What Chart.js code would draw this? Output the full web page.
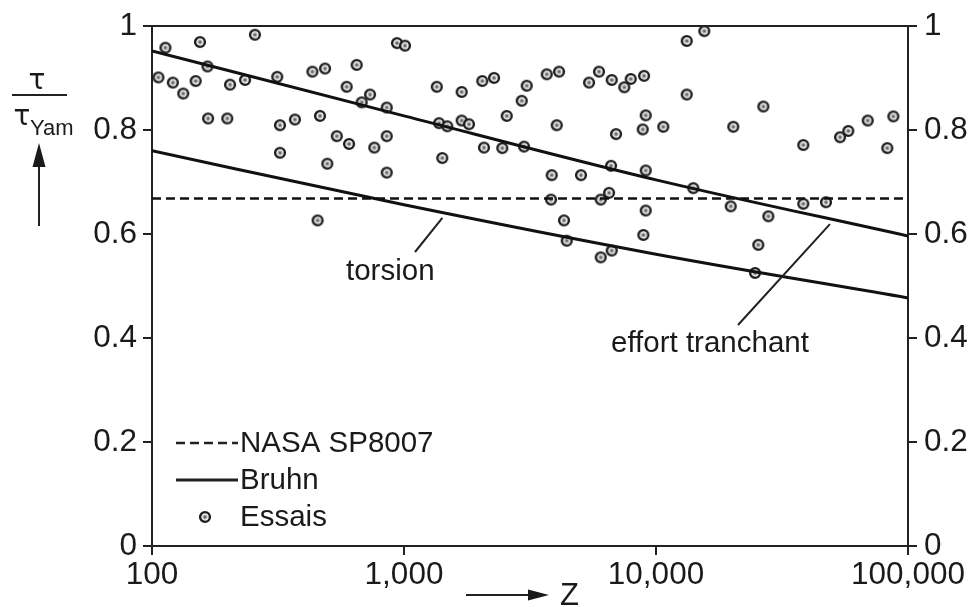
<!DOCTYPE html>
<html>
<head>
<meta charset="utf-8">
<script src="https://cdn.jsdelivr.net/npm/chart.js@4.4.1/dist/chart.umd.min.js"></script>
<style>
  html, body { margin: 0; padding: 0; background: #fff; }
  canvas { display: block; }
</style>
</head>
<body>
<canvas id="chart" width="972" height="607"></canvas>
<script>
// axis ticks
const zTicks = [100, 1000, 10000, 100000];
const ratioTicks = [0, 0.2, 0.4, 0.6, 0.8, 1];

// NASA SP8007 design value
const nasaZ = [100, 100000];
const nasaRatio = [0.668, 0.668];

// Bruhn curves
const bruhnZ = [100, 1000, 10000, 100000];
const bruhnShear = [0.952, 0.827, 0.704, 0.596];
const bruhnTorsion = [0.76, 0.656, 0.561, 0.477];

// test results (Essais)
const testZ = [
  113, 155, 256, 938, 1009, 106, 121, 133, 149, 166,
  204, 234, 314, 433, 486, 649, 592, 679, 733, 854,
  167, 199, 322, 369, 464, 541, 605, 762, 854, 322,
  496, 854, 454, 1349, 1694, 2045, 2276, 3069, 2931, 3685,
  4122, 5422, 5940, 6673, 7485, 7937, 8966, 2556, 1377, 1485,
  1694, 1811, 4036, 6940, 8859, 9101, 1419, 2077, 2455, 2994,
  3856, 5039, 6630, 9101, 3832, 6034, 6510, 9101, 4314, 8906,
  4422, 6673, 6034, 15549, 13238, 13238, 26668, 10690, 20263, 38411,
  53725, 57940, 69216, 87447, 82776, 14061, 19790, 27907, 38411, 47260,
  25468, 24714
];
const testRatio = [
  0.958, 0.969, 0.983, 0.967, 0.962, 0.901, 0.891, 0.870, 0.894, 0.922,
  0.887, 0.896, 0.902, 0.912, 0.918, 0.925, 0.883, 0.853, 0.868, 0.843,
  0.822, 0.822, 0.809, 0.820, 0.827, 0.788, 0.773, 0.766, 0.788, 0.756,
  0.735, 0.718, 0.626, 0.883, 0.873, 0.894, 0.900, 0.885, 0.856, 0.907,
  0.912, 0.891, 0.912, 0.896, 0.882, 0.898, 0.904, 0.827, 0.813, 0.807,
  0.818, 0.811, 0.809, 0.792, 0.801, 0.828, 0.746, 0.766, 0.765, 0.768,
  0.713, 0.713, 0.731, 0.722, 0.666, 0.666, 0.679, 0.645, 0.626, 0.598,
  0.587, 0.568, 0.555, 0.990, 0.971, 0.868, 0.845, 0.806, 0.806, 0.771,
  0.786, 0.798, 0.818, 0.826, 0.765, 0.688, 0.653, 0.634, 0.658, 0.661,
  0.579, 0.525
];

const ink = "#1a1a1a";
const fontFamily = "'Liberation Sans', Arial, Helvetica, sans-serif";

const toPoints = (xs, ys) => xs.map((x, i) => ({ x: x, y: ys[i] }));

// small test marker: dark ring with a dot in the middle
function makeMarker() {
  const c = document.createElement("canvas");
  c.width = 14;
  c.height = 14;
  const g = c.getContext("2d");
  g.beginPath();
  g.arc(7, 7, 4.9, 0, Math.PI * 2);
  g.fillStyle = "#f0f0f0";
  g.fill();
  g.lineWidth = 2.4;
  g.strokeStyle = "#1e1e1e";
  g.stroke();
  g.beginPath();
  g.arc(7, 7, 1.9, 0, Math.PI * 2);
  g.lineWidth = 0.9;
  g.strokeStyle = "#888";
  g.stroke();
  g.beginPath();
  g.arc(7, 7, 1, 0, Math.PI * 2);
  g.fillStyle = "#333";
  g.fill();
  return c;
}
const marker = makeMarker();

function arrow(ctx, x1, y1, x2, y2, head, half) {
  const a = Math.atan2(y2 - y1, x2 - x1);
  const bx = x2 - Math.cos(a) * head;
  const by = y2 - Math.sin(a) * head;
  ctx.beginPath();
  ctx.moveTo(x1, y1);
  ctx.lineTo(bx, by);
  ctx.lineWidth = 2;
  ctx.stroke();
  ctx.beginPath();
  ctx.moveTo(x2, y2);
  ctx.lineTo(bx - Math.sin(a) * half, by + Math.cos(a) * half);
  ctx.lineTo(bx + Math.sin(a) * half, by - Math.cos(a) * half);
  ctx.closePath();
  ctx.fill();
}

const decorations = {
  id: "decorations",
  afterDatasetsDraw(chart) {
    const ctx = chart.ctx;
    const area = chart.chartArea;
    const xs = chart.scales.x;
    const ys = chart.scales.y;
    ctx.save();
    ctx.strokeStyle = "#222";
    ctx.fillStyle = ink;

    // top frame line
    ctx.lineWidth = 2;
    ctx.beginPath();
    ctx.moveTo(area.left, area.top);
    ctx.lineTo(area.right, area.top);
    ctx.stroke();

    // pointers for the curve names
    ctx.lineWidth = 2;
    ctx.beginPath();
    ctx.moveTo(415, 252);
    ctx.lineTo(xs.getPixelForValue(1420), ys.getPixelForValue(0.631));
    ctx.moveTo(738, 325);
    ctx.lineTo(xs.getPixelForValue(49000), ys.getPixelForValue(0.619));
    ctx.stroke();

    ctx.font = "29.5px " + fontFamily;
    ctx.textBaseline = "alphabetic";
    ctx.textAlign = "left";
    ctx.fillText("torsion", 346, 280);
    ctx.fillText("effort tranchant", 611, 352);

    // legend
    const ds = chart.data.datasets;
    ctx.textBaseline = "middle";
    ctx.lineWidth = 2.5;
    ctx.setLineDash([9, 5]);
    ctx.beginPath();
    ctx.moveTo(176, 443);
    ctx.lineTo(238, 443);
    ctx.stroke();
    ctx.setLineDash([]);
    ctx.lineWidth = 3;
    ctx.beginPath();
    ctx.moveTo(176, 480);
    ctx.lineTo(238, 480);
    ctx.stroke();
    ctx.drawImage(marker, 205 - 7, 517 - 7);
    ctx.fillText(ds[0].label, 240, 444);
    ctx.fillText(ds[1].label, 240, 481);
    ctx.fillText(ds[3].label, 240, 518);

    // y axis title: tau / tau_Yam with arrow
    ctx.textAlign = "center";
    ctx.textBaseline = "alphabetic";
    ctx.font = "28px 'DejaVu Sans', sans-serif";
    ctx.fillText("\u03C4", 37, 89);
    ctx.lineWidth = 2;
    ctx.beginPath();
    ctx.moveTo(12, 95);
    ctx.lineTo(67, 95);
    ctx.stroke();
    ctx.fillText("\u03C4", 22, 125);
    ctx.font = "22px " + fontFamily;
    ctx.textAlign = "left";
    ctx.fillText("Yam", 30, 135);
    arrow(ctx, 39, 226, 39, 143, 24, 6.5);

    // x axis title: arrow and Z
    arrow(ctx, 466, 595, 549, 595, 21, 5.5);
    ctx.font = "31px " + fontFamily;
    ctx.fillText("Z", 560, 605);

    ctx.restore();
  }
};

const tickFont = { family: fontFamily, size: 31.5 };

new Chart(document.getElementById("chart"), {
  type: "scatter",
  data: {
    datasets: [
      {
        type: "line",
        label: "NASA SP8007",
        data: toPoints(nasaZ, nasaRatio),
        borderColor: "#111",
        borderWidth: 2.5,
        borderDash: [9, 5],
        pointRadius: 0,
        fill: false
      },
      {
        type: "line",
        label: "Bruhn",
        data: toPoints(bruhnZ, bruhnShear),
        borderColor: "#111",
        borderWidth: 3,
        pointRadius: 0,
        cubicInterpolationMode: "monotone",
        fill: false
      },
      {
        type: "line",
        label: "Bruhn torsion",
        data: toPoints(bruhnZ, bruhnTorsion),
        borderColor: "#111",
        borderWidth: 3,
        pointRadius: 0,
        cubicInterpolationMode: "monotone",
        fill: false
      },
      {
        label: "Essais",
        data: toPoints(testZ, testRatio),
        pointStyle: marker,
        pointRadius: 6
      }
    ]
  },
  options: {
    responsive: false,
    animation: false,
    devicePixelRatio: 1,
    layout: { padding: { top: 25, left: 0, right: 0, bottom: 0 } },
    plugins: {
      legend: { display: false },
      tooltip: { enabled: false }
    },
    scales: {
      x: {
        type: "logarithmic",
        position: "bottom",
        min: 100,
        max: 100000,
        afterBuildTicks: (s) => { s.ticks = zTicks.map((v) => ({ value: v })); },
        afterFit: (s) => { s.height = 61; },
        ticks: {
          autoSkip: false,
          maxRotation: 0,
          padding: 1,
          color: ink,
          font: tickFont,
          callback: (v) => Number(v).toLocaleString("en-US")
        },
        grid: { drawOnChartArea: false, tickLength: 9, color: "#222", lineWidth: 2 },
        border: { color: "#222", width: 2 }
      },
      y: {
        position: "left",
        min: 0,
        max: 1,
        afterBuildTicks: (s) => { s.ticks = ratioTicks.map((v) => ({ value: v })); },
        afterFit: (s) => { s.width = 152; },
        ticks: {
          padding: 6,
          color: ink,
          font: tickFont,
          callback: (v) => (v === 0 || v === 1 ? String(v) : v.toFixed(1))
        },
        grid: { drawOnChartArea: false, tickLength: 9, color: "#222", lineWidth: 2 },
        border: { color: "#222", width: 2 }
      },
      y2: {
        position: "right",
        min: 0,
        max: 1,
        afterBuildTicks: (s) => { s.ticks = ratioTicks.map((v) => ({ value: v })); },
        afterFit: (s) => { s.width = 64; },
        ticks: {
          padding: 7,
          color: ink,
          font: tickFont,
          callback: (v) => (v === 0 || v === 1 ? String(v) : v.toFixed(1))
        },
        grid: { drawOnChartArea: false, tickLength: 9, color: "#222", lineWidth: 2 },
        border: { color: "#222", width: 2 }
      }
    }
  },
  plugins: [decorations]
});
</script>
</body>
</html>
